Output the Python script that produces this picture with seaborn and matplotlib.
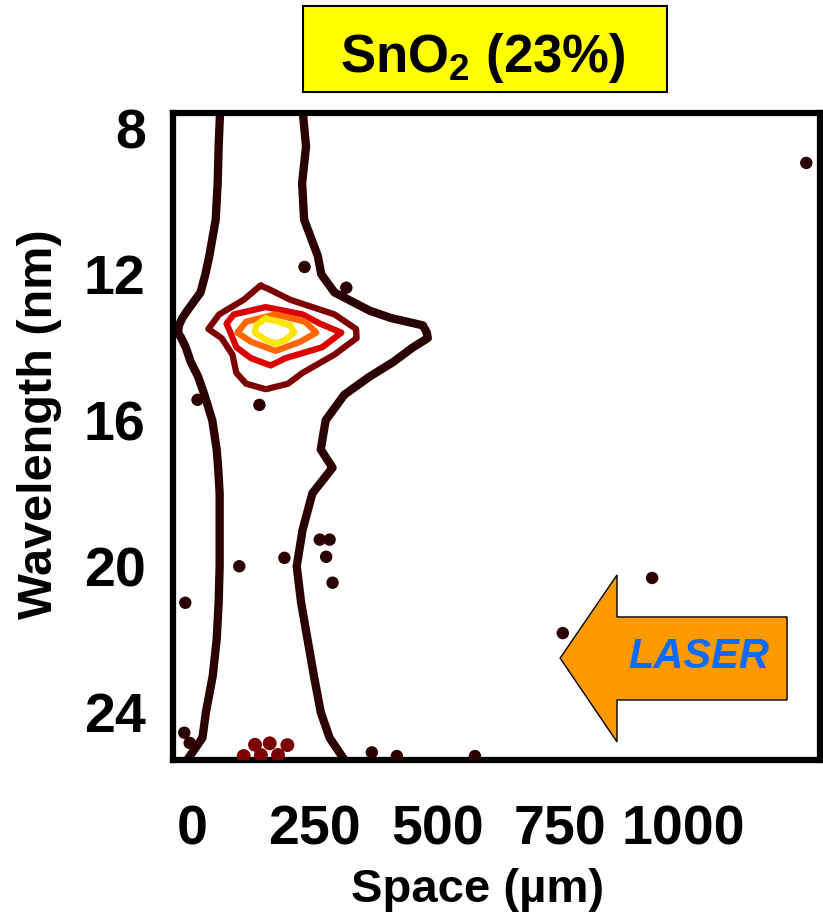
import numpy as np
import matplotlib
matplotlib.use("Agg")
import matplotlib.pyplot as plt
from matplotlib.patches import Polygon, Rectangle
import seaborn as sns

# contour outlines: for each wavelength row, the left and
# right space position (um) where the signal crosses that contour level
outer_wl = [7.5, 8.5, 9.5, 10.5, 11.5, 12.0, 12.5, 13.0, 13.2, 13.4, 13.6, 13.75, 14.0, 14.4,
            14.8, 15.3, 16.0, 16.8, 17.3, 18.0, 19.0, 20.0, 21.0, 22.0, 23.0, 24.0, 24.7, 25.5]
outer_left = [57, 54, 52, 48, 35, 27, 17, -10, -20, -27, -29, -22, -13, -3,
              12, 25, 41, 50, 53, 56, 56, 56, 54, 50, 42, 28, 21, -20]
outer_right = [225, 232, 224, 228, 256, 263, 290, 362, 405, 470, 478, 480, 450, 410,
               362, 310, 272, 262, 286, 245, 225, 213, 222, 235, 248, 262, 280, 320]

darkred_wl = [12.3, 12.7, 13.1, 13.5, 13.75, 14.2, 14.7, 15.0, 15.15]
darkred_left = [140, 105, 55, 33, 60, 82, 90, 110, 150]
darkred_right = [140, 200, 290, 334, 335, 290, 225, 195, 150]

red_wl = [12.9, 13.1, 13.35, 13.6, 14.0, 14.3, 14.5]
red_left = [150, 85, 70, 78, 90, 120, 160]
red_right = [150, 225, 260, 304, 265, 190, 160]

orange_wl = [13.1, 13.3, 13.6, 13.85, 14.1]
orange_left = [170, 110, 92, 120, 170]
orange_right = [170, 230, 253, 220, 170]

yellow_wl = [13.2, 13.4, 13.6, 13.8, 13.9]
yellow_left = [150, 130, 128, 150, 170]
yellow_right = [150, 200, 208, 190, 170]

# isolated speckles
dot_x = [1251, 937, 755, -14, 137, 11, 229, 314, 366, 417, 576, -16, -5, 260, 280, 273, 286, 188, 96]
dot_wl = [8.95, 20.32, 21.83, 21.0, 15.58, 15.44, 11.8, 12.37, 25.1, 25.2, 25.2, 24.56, 24.84,
          19.27, 19.27, 19.74, 20.45, 19.77, 20.0]
reddot_x = [128, 158, 194, 140, 175, 105]
reddot_wl = [24.89, 24.85, 24.9, 25.17, 25.17, 25.2]

x_ticks = [0, 250, 500, 750, 1000]
y_ticks = [8, 12, 16, 20, 24]

sns.set_theme(style="white")
plt.rcParams['font.family'] = ['Liberation Sans', 'DejaVu Sans']
plt.rcParams['mathtext.default'] = 'regular'
plt.rcParams['text.color'] = 'black'
plt.rcParams['axes.labelcolor'] = 'black'

fig = plt.figure(figsize=(8.23, 9.15), dpi=100)
ax = fig.add_axes([0.2108, 0.1689, 0.7856, 0.7077])

space = np.linspace(-60, 1300, 1361)


def draw_level(wl, left, right, color, lw):
    wl = np.asarray(wl, float)
    left = np.asarray(left, float)[:, None]
    right = np.asarray(right, float)[:, None]
    z = np.minimum(space[None, :] - left, right - space[None, :])
    ax.contour(space, wl, z, levels=[0], colors=[color], linewidths=lw)


draw_level(outer_wl, outer_left, outer_right, '#2a0000', 6)
draw_level(darkred_wl, darkred_left, darkred_right, '#7d0000', 4.5)
draw_level(red_wl, red_left, red_right, '#dd0000', 4.5)
draw_level(orange_wl, orange_left, orange_right, '#ff6600', 4.5)
draw_level(yellow_wl, yellow_left, yellow_right, '#ffe600', 4.5)

sns.scatterplot(x=dot_x, y=dot_wl, ax=ax, color='#2a0000', s=80, edgecolor='none', zorder=3)
sns.scatterplot(x=reddot_x, y=reddot_wl, ax=ax, color='#7d0000', s=100, edgecolor='none', zorder=3)

ax.set_xlim(-38, 1279)
ax.set_ylim(25.32, 7.58)
ax.set_xticks(x_ticks)
ax.set_yticks(y_ticks)
ax.tick_params(direction='out', length=18, width=1, color='#444444',
               labelsize=40, labelcolor='black')
ax.tick_params(axis='y', pad=2)
ax.tick_params(axis='x', pad=14)
for lab in ax.get_xticklabels() + ax.get_yticklabels():
    lab.set_fontweight('bold')
for sp in ax.spines.values():
    sp.set_linewidth(4.5)
    sp.set_color('black')
    sp.set_visible(True)

ax.set_xlabel('Space (µm)', fontsize=34, fontweight='bold', color='black')
ax.set_ylabel('Wavelength (nm)', fontsize=35, fontweight='bold', color='black')
ax.xaxis.set_label_coords(0.471, -0.166)
ax.yaxis.set_label_coords(-0.172, 0.52)

# laser arrow
arrow = Polygon([(0.598, 0.158), (0.686, 0.2865), (0.686, 0.2216), (0.949, 0.2216),
                 (0.949, 0.0934), (0.686, 0.0934), (0.686, 0.0286)],
                closed=True, transform=ax.transAxes, facecolor='#ff9900',
                edgecolor='black', linewidth=1, zorder=4)
ax.add_patch(arrow)
ax.text(0.813, 0.16, 'LASER', transform=ax.transAxes, ha='center', va='center',
        fontsize=30, fontweight='bold', fontstyle='italic', color='#0a6cff', zorder=5)

# title box
fig.patches.append(Rectangle((0.3682, 0.8995), 0.4423, 0.094, transform=fig.transFigure,
                             facecolor='#ffff00', edgecolor='black', linewidth=1.5))
fig.text(0.587, 0.9213, 'SnO$_2$ (23%)', ha='center', va='baseline',
         fontsize=38, fontweight='bold', color='black')

fig.savefig('out.png', dpi=100)
